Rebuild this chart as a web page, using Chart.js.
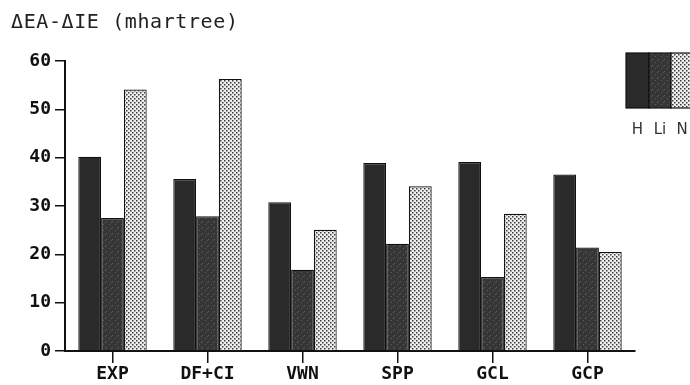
<!DOCTYPE html>
<html>
<head>
<meta charset="utf-8">
<script src="https://cdn.jsdelivr.net/npm/chart.js@4.4.1/dist/chart.umd.min.js"></script>
<style>
    html, body { margin: 0; padding: 0; background: #fff; }
    #wrap { width: 690px; height: 385px; }
</style>
</head>
<body>
<div id="wrap"><canvas id="deltaChart"></canvas></div>
<script>
// data
const categories = ["EXP", "DF+CI", "VWN", "SPP", "GCL", "GCP"];
const seriesNames = ["H", "Li", "N"];
const valuesH = [40.2, 35.6, 30.8, 38.9, 39.1, 36.5];
const valuesLi = [27.5, 27.9, 16.8, 22.2, 15.3, 21.4];
const valuesN = [54.1, 56.3, 25.1, 34.1, 28.4, 20.5];
const yTicks = [0, 10, 20, 30, 40, 50, 60];
const titleText = "ΔEA-ΔIE (mhartree)";

document.addEventListener("DOMContentLoaded", function () {
    let ctx = document.getElementById("deltaChart").getContext("2d");

    // fill patterns that imitate the print shading
    function makePattern(size, bg, dots, dotColor, dotSize) {
        const c = document.createElement("canvas");
        c.width = size;
        c.height = size;
        const p = c.getContext("2d");
        p.fillStyle = bg;
        p.fillRect(0, 0, size, size);
        p.fillStyle = dotColor;
        dots.forEach(d => p.fillRect(d[0], d[1], dotSize, dotSize));
        return ctx.createPattern(c, "repeat");
    }

    const fillH = "#2a2a2a";
    const fillLi = makePattern(6, "#363636", [[1, 2], [4, 5], [3, 0]], "#5c5c5c", 1);
    const fillN = makePattern(4, "#eeeeee", [[0, 0], [2, 2]], "#3a3a3a", 1.5);

    const monoBold = { family: "'DejaVu Sans Mono', monospace", size: 18, weight: "bold" };

    // title + custom legend block on the right
    const decorations = {
        id: "decorations",
        afterDraw(chart) {
            const c = chart.ctx;
            c.save();
            c.fillStyle = "#222";
            c.font = "20px 'DejaVu Sans Mono', monospace";
            c.letterSpacing = "0.6px";
            c.textBaseline = "top";
            c.textAlign = "left";
            c.fillText(titleText, 11, 13);
            c.letterSpacing = "0px";

            const ds = chart.data.datasets;
            const widths = [23, 22, 22];
            let x = 626;
            const top = 53, h = 55;
            ds.forEach((d, i) => {
                c.fillStyle = d.backgroundColor;
                c.fillRect(x, top, widths[i], h);
                c.strokeStyle = "#111";
                c.lineWidth = 1.2;
                c.strokeRect(x, top, widths[i], h);
                c.fillStyle = "#333";
                c.font = "15px 'DejaVu Sans', sans-serif";
                c.textAlign = "center";
                c.textBaseline = "middle";
                c.fillText(d.label, x + widths[i] / 2, 130);
                x += widths[i];
            });
            c.restore();
        }
    };

    new Chart(ctx, {
        type: "bar",
        data: {
            labels: categories,
            datasets: [
                { label: seriesNames[0], data: valuesH, backgroundColor: fillH },
                { label: seriesNames[1], data: valuesLi, backgroundColor: fillLi },
                { label: seriesNames[2], data: valuesN, backgroundColor: fillN }
            ]
        },
        options: {
            responsive: true,
            maintainAspectRatio: false,
            animation: false,
            layout: { padding: { top: 61, right: 55, left: 0, bottom: 0 } },
            datasets: {
                bar: {
                    barPercentage: 1,
                    categoryPercentage: 0.72,
                    borderColor: "#111",
                    borderWidth: 1.2,
                    borderSkipped: "bottom"
                }
            },
            plugins: {
                legend: { display: false },
                title: { display: false },
                tooltip: { enabled: false }
            },
            scales: {
                x: {
                    grid: {
                        offset: false,
                        drawOnChartArea: false,
                        drawTicks: true,
                        tickLength: 12,
                        color: "#111",
                        lineWidth: 1.5
                    },
                    border: { color: "#111", width: 2 },
                    ticks: { color: "#111", font: monoBold, padding: 1 },
                    afterFit(scale) { scale.height = 34; }
                },
                y: {
                    min: 0,
                    max: 60,
                    afterBuildTicks(scale) { scale.ticks = yTicks.map(v => ({ value: v })); },
                    grid: {
                        drawOnChartArea: false,
                        drawTicks: true,
                        tickLength: 10,
                        color: "#111",
                        lineWidth: 1.5
                    },
                    border: { color: "#111", width: 2 },
                    ticks: { color: "#111", font: monoBold, padding: 4 },
                    afterFit(scale) { scale.width = 65; }
                }
            }
        },
        plugins: [decorations]
    });
});
</script>
</body>
</html>
